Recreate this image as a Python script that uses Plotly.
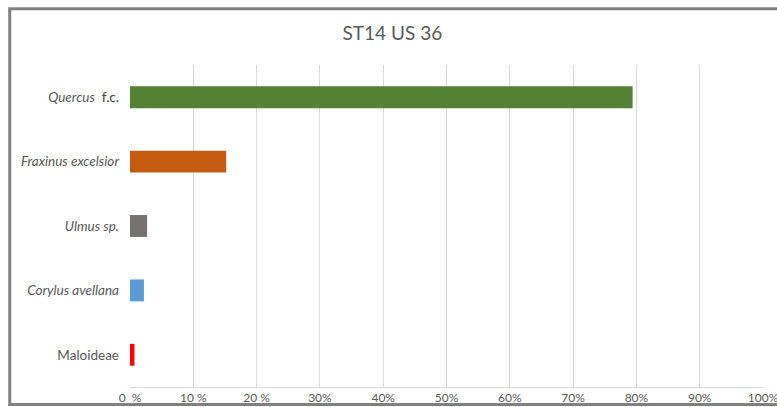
import plotly.graph_objects as go

# data
taxa = ["<i>Quercus</i>\u00a0\u00a0<span style='color:#404040'>f.c.</span>",
        "<i>Fraxinus excelsior</i>", "<i>Ulmus sp.</i>",
        "<i>Corylus avellana</i>", "Maloideae"]
percent = [79.4, 15.2, 2.7, 2.2, 0.7]
bar_colors = ["#548235", "#C55A11", "#767171", "#5B9BD5", "#FF0000"]
tick_vals = [0, 10, 20, 30, 40, 50, 60, 70, 80, 90, 100]
tick_text = ["0\u00a0\u00a0%", "10 %", "20 %", "30%", "40%", "50%", "60%", "70%", "80%", "90%", "100%"]

fig = go.Figure()
fig.add_trace(
    go.Bar(
        x=percent,
        y=taxa,
        orientation="h",
        marker={"color": bar_colors, "line": {"width": 0}},
        showlegend=False,
    )
)

fig.update_layout(
    width=777,
    height=407,
    margin={"l": 130, "r": 14, "t": 65, "b": 20, "autoexpand": False},
    paper_bgcolor="white",
    plot_bgcolor="white",
    font={"family": "Lato, 'Open Sans', sans-serif", "color": "#595959", "size": 12},
    title={
        "text": "ST14 US 36",
        "x": 0.505,
        "xanchor": "center",
        "y": 0.919,
        "yanchor": "middle",
        "font": {"size": 19, "color": "#595959"},
    },
    bargap=0.66,
    xaxis={
        "range": [0, 100],
        "tickvals": tick_vals,
        "ticktext": tick_text,
        "showgrid": True,
        "gridcolor": "#d9d9d9",
        "gridwidth": 1,
        "zeroline": False,
        "showline": True,
        "linecolor": "#d9d9d9",
        "ticks": "",
        "automargin": False,
        "ticklabeloverflow": "allow",
        "tickfont": {"size": 12, "color": "#595959"},
    },
    yaxis={
        "categoryorder": "array",
        "categoryarray": taxa,
        "autorange": "reversed",
        "showgrid": False,
        "zeroline": False,
        "showline": False,
        "ticks": "",
        "automargin": False,
        "ticklabelstandoff": 10,
        "tickfont": {"size": 13.5, "color": "#595959"},
    },
    shapes=[
        {
            "type": "rect",
            "xref": "paper",
            "yref": "paper",
            "x0": -0.19,
            "x1": 1.05,
            "y0": -0.054,
            "y1": 1.175,
            "line": {"color": "#808080", "width": 3},
            "fillcolor": "rgba(0,0,0,0)",
        }
    ],
)

# the page body has a default 8px margin; drop it so the chart fills the window
fig.write_html(
    "out.html",
    config={"displayModeBar": False},
    post_script="document.body.style.margin='0';",
)
